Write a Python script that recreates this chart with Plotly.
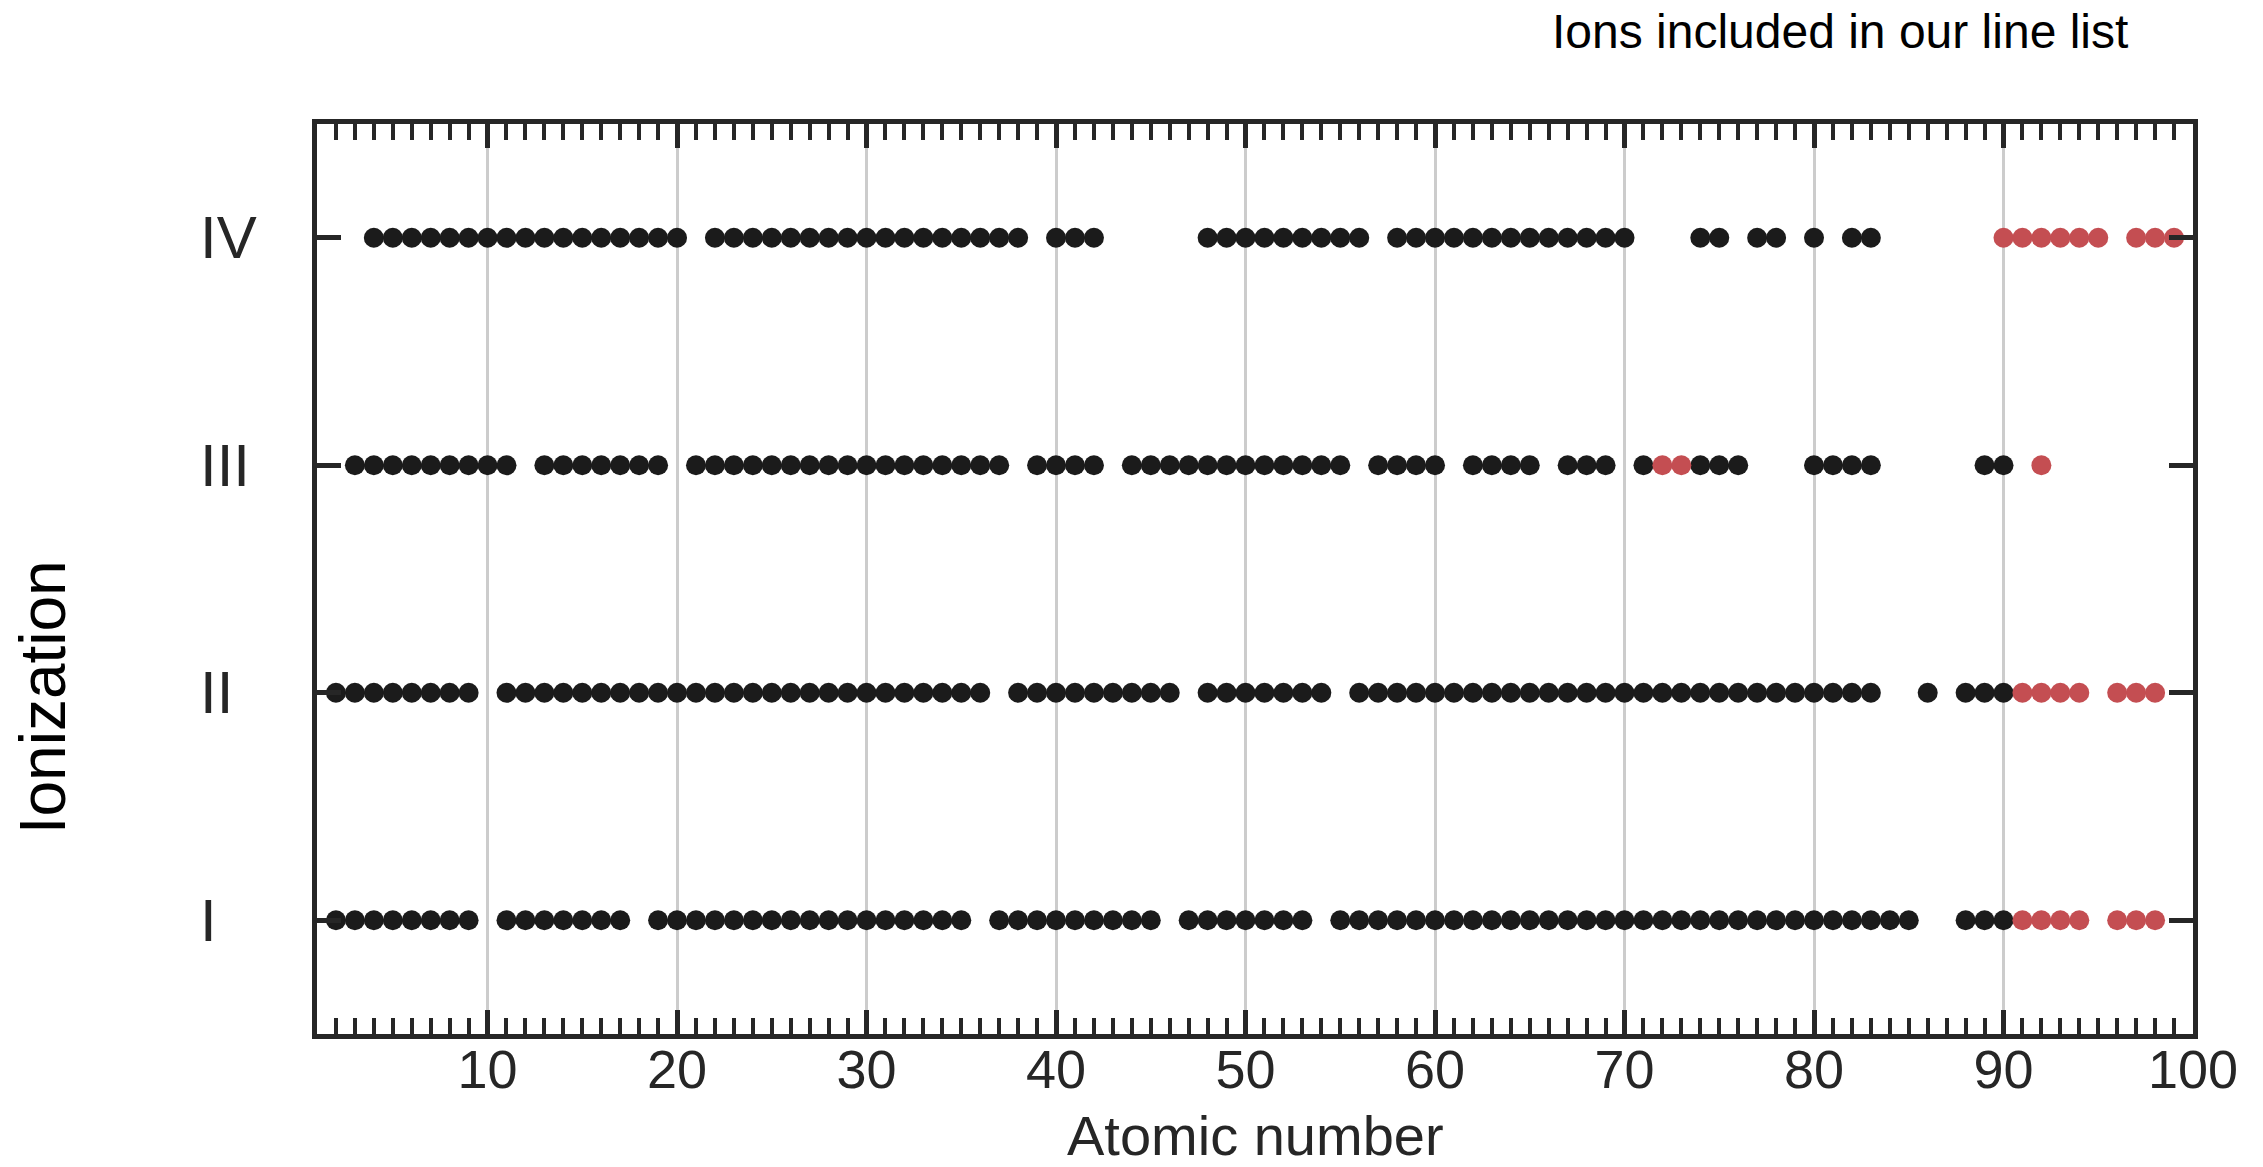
import plotly.graph_objects as go

# ---------------- data ----------------
stage_labels = ["I", "II", "III", "IV"]
stage_values = [1, 2, 3, 4]

# atomic numbers shown in black (other ions) per ionization stage
I_black = [2, 3, 4, 5, 6, 7, 8, 9,
           11, 12, 13, 14, 15, 16, 17,
           19, 20, 21, 22, 23, 24, 25, 26, 27, 28, 29, 30, 31, 32, 33, 34, 35,
           37, 38, 39, 40, 41, 42, 43, 44, 45,
           47, 48, 49, 50, 51, 52, 53,
           55, 56, 57, 58, 59, 60, 61, 62, 63, 64, 65, 66, 67, 68, 69, 70,
           71, 72, 73, 74, 75, 76, 77, 78, 79, 80, 81, 82, 83, 84, 85,
           88, 89, 90]
II_black = [2, 3, 4, 5, 6, 7, 8, 9,
            11, 12, 13, 14, 15, 16, 17, 18, 19, 20, 21, 22, 23, 24, 25, 26, 27,
            28, 29, 30, 31, 32, 33, 34, 35, 36,
            38, 39, 40, 41, 42, 43, 44, 45, 46,
            48, 49, 50, 51, 52, 53, 54,
            56, 57, 58, 59, 60, 61, 62, 63, 64, 65, 66, 67, 68, 69, 70,
            71, 72, 73, 74, 75, 76, 77, 78, 79, 80, 81, 82, 83,
            86, 88, 89, 90]
III_black = [3, 4, 5, 6, 7, 8, 9, 10, 11,
             13, 14, 15, 16, 17, 18, 19,
             21, 22, 23, 24, 25, 26, 27, 28, 29, 30, 31, 32, 33, 34, 35, 36, 37,
             39, 40, 41, 42,
             44, 45, 46, 47, 48, 49, 50, 51, 52, 53, 54, 55,
             57, 58, 59, 60,
             62, 63, 64, 65,
             67, 68, 69,
             71, 74, 75, 76,
             80, 81, 82, 83,
             89, 90]
IV_black = [4, 5, 6, 7, 8, 9, 10, 11, 12, 13, 14, 15, 16, 17, 18, 19, 20,
            22, 23, 24, 25, 26, 27, 28, 29, 30, 31, 32, 33, 34, 35, 36, 37, 38,
            40, 41, 42,
            48, 49, 50, 51, 52, 53, 54, 55, 56,
            58, 59, 60, 61, 62, 63, 64, 65, 66, 67, 68, 69, 70,
            74, 75, 77, 78, 80, 82, 83]

# atomic numbers of ions included in our line list (red)
I_red = [91, 92, 93, 94, 96, 97, 98]
II_red = [91, 92, 93, 94, 96, 97, 98]
III_red = [72, 73, 92]
IV_red = [90, 91, 92, 93, 94, 95, 97, 98, 99]

x_ticks = [10, 20, 30, 40, 50, 60, 70, 80, 90, 100]

black_sets = [I_black, II_black, III_black, IV_black]
red_sets = [I_red, II_red, III_red, IV_red]

# ---------------- styling ----------------
FONT = "Liberation Sans, Arial, Helvetica, sans-serif"
AXC = "#262626"
BLACK = "#1b1b1b"
RED = "#c44e52"

W, H = 2263, 1167
ML, MR, MT, MB = 317, 70, 124, 133
PW = W - ML - MR
PH = H - MT - MB

bx, by, rx, ry = [], [], [], []
for v, zs in zip(stage_values, black_sets):
    bx += zs
    by += [v] * len(zs)
for v, zs in zip(stage_values, red_sets):
    rx += zs
    ry += [v] * len(zs)

fig = go.Figure()
fig.add_trace(go.Scatter(x=bx, y=by, mode="markers", name="Other ions",
                         marker=dict(size=20, color=BLACK, line=dict(width=0)),
                         showlegend=False))
fig.add_trace(go.Scatter(x=rx, y=ry, mode="markers", name="Ions included in our line list",
                         marker=dict(size=20, color=RED, line=dict(width=0)),
                         showlegend=False))

fig.update_layout(
    width=W, height=H,
    margin=dict(l=ML, r=MR, t=MT, b=MB, pad=0, autoexpand=False),
    paper_bgcolor="white", plot_bgcolor="white",
    font=dict(family=FONT, color=AXC),
    xaxis=dict(
        range=[1, 100], tickvals=x_ticks, ticktext=[str(t) for t in x_ticks],
        ticks="inside", ticklen=24, tickwidth=5, tickcolor=AXC,
        showline=True, linewidth=5, linecolor=AXC, mirror="ticks",
        showgrid=True, gridcolor="#cccccc", gridwidth=3, zeroline=False,
        minor=dict(dtick=1, tick0=0, ticks="inside", ticklen=16, tickwidth=4,
                   tickcolor=AXC, showgrid=False),
        tickfont=dict(size=54, color=AXC, family=FONT),
        ticklabelstandoff=-16,
        automargin=False,
    ),
    yaxis=dict(
        range=[0.5, 4.5], tickvals=stage_values, ticktext=stage_labels,
        showticklabels=False,
        ticks="inside", ticklen=24, tickwidth=5, tickcolor=AXC,
        showline=True, linewidth=5, linecolor=AXC, mirror="ticks",
        showgrid=False, zeroline=False, automargin=False,
    ),
)

# y tick labels, left-aligned as in the reference
for v, lab in zip(stage_values, stage_labels):
    fig.add_annotation(x=(198 - ML) / PW, xref="paper", y=v, yref="y",
                       text=lab, showarrow=False, xanchor="left", yanchor="middle",
                       font=dict(size=60, color=AXC, family=FONT))

# y axis title
fig.add_annotation(x=(43 - ML) / PW, xref="paper", y=1.98, yref="y",
                   text="Ionization", textangle=-90, showarrow=False,
                   xanchor="center", yanchor="middle",
                   font=dict(size=64, color="black", family=FONT))

# x axis title (kept fully inside the page, clear of the tick labels)
fig.add_annotation(x=0.5, xref="paper", y=-(1135 - (H - MB)) / PH, yref="paper",
                   text="Atomic number", showarrow=False,
                   xanchor="center", yanchor="middle",
                   font=dict(size=56, color=AXC, family=FONT))

# header text
fig.add_annotation(x=(1840 - ML) / PW, xref="paper",
                   y=1 + (MT - 32) / PH, yref="paper",
                   text="Ions included in our line list", showarrow=False,
                   xanchor="center", yanchor="middle",
                   font=dict(size=48, color="black", family=FONT))

fig.write_html("out.html")
